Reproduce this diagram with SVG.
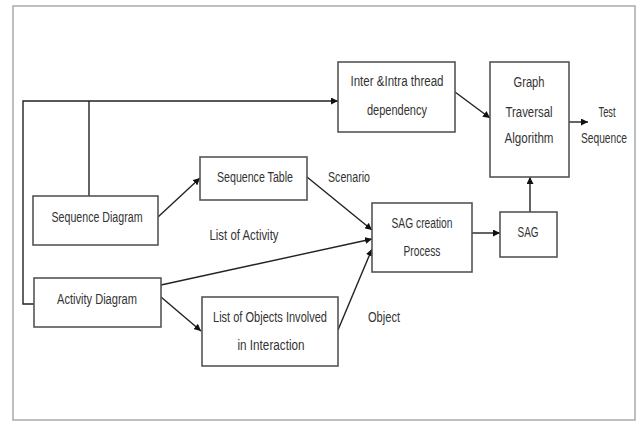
<svg xmlns="http://www.w3.org/2000/svg" width="640" height="422" viewBox="0 0 640 422">
<style>
.box{fill:#fff;stroke:#555;stroke-width:1.6}
.t{font-family:"Liberation Sans",Arial,sans-serif;font-size:15.5px;fill:#333;text-anchor:middle}
.c{fill:none;stroke:#222;stroke-width:1.4}
</style>
<defs>
<marker id="ah" viewBox="0 0 10 10" refX="10" refY="5" markerWidth="7" markerHeight="7" markerUnits="userSpaceOnUse" orient="auto">
<path d="M0,0 L10,5 L0,10 z" fill="#111"/>
</marker>
</defs>
<rect x="0" y="0" width="640" height="422" fill="#fff"/>
<rect x="13" y="6" width="622" height="414" fill="none" stroke="#aaa" stroke-width="1.5"/>
<g id="connectors">
<path class="c" d="M34,304 H23 V101 H338" marker-end="url(#ah)"/>
<path class="c" d="M89,196 V101"/>
<path class="c" d="M455,92 L490,118" marker-end="url(#ah)"/>
<path class="c" d="M569,122 L588,122" marker-end="url(#ah)"/>
<path class="c" d="M530,212 L530,177" marker-end="url(#ah)"/>
<path class="c" d="M472,233 L500,233" marker-end="url(#ah)"/>
<path class="c" d="M158,217 L200,178" marker-end="url(#ah)"/>
<path class="c" d="M307,177 L372,230" marker-end="url(#ah)"/>
<path class="c" d="M161,285 L372,239" marker-end="url(#ah)"/>
<path class="c" d="M161,297 L201,331" marker-end="url(#ah)"/>
<path class="c" d="M338,330 L372,249" stroke-width="1" marker-end="url(#ah)"/>
</g>
<g id="inter">
<rect class="box" x="338" y="62" width="117" height="70"/>
<text class="t" x="397" y="86" textLength="93" lengthAdjust="spacingAndGlyphs">Inter &amp;Intra thread</text>
<text class="t" x="397" y="115" textLength="60" lengthAdjust="spacingAndGlyphs">dependency</text>
</g>
<g id="graph">
<rect class="box" x="490" y="62" width="79" height="115"/>
<text class="t" x="529" y="87" textLength="31" lengthAdjust="spacingAndGlyphs">Graph</text>
<text class="t" x="529" y="117" textLength="47" lengthAdjust="spacingAndGlyphs">Traversal</text>
<text class="t" x="529" y="143" textLength="49" lengthAdjust="spacingAndGlyphs">Algorithm</text>
</g>
<g id="test">
<text class="t" x="607" y="117" textLength="17" lengthAdjust="spacingAndGlyphs">Test</text>
<text class="t" x="604" y="143" textLength="46" lengthAdjust="spacingAndGlyphs">Sequence</text>
</g>
<g id="seqdiag">
<rect class="box" x="33" y="196" width="125" height="49"/>
<text class="t" x="97" y="222" textLength="91" lengthAdjust="spacingAndGlyphs">Sequence Diagram</text>
</g>
<g id="seqtable">
<rect class="box" x="200" y="157" width="107" height="43"/>
<text class="t" x="255" y="182" textLength="76" lengthAdjust="spacingAndGlyphs">Sequence Table</text>
</g>
<g id="labels">
<text class="t" x="349" y="182" textLength="42" lengthAdjust="spacingAndGlyphs">Scenario</text>
<text class="t" x="244" y="240" textLength="69" lengthAdjust="spacingAndGlyphs">List of Activity</text>
<text class="t" x="384" y="322" textLength="32" lengthAdjust="spacingAndGlyphs">Object</text>
</g>
<g id="sagcreation">
<rect class="box" x="372" y="203" width="100" height="69"/>
<text class="t" x="422" y="228" textLength="61" lengthAdjust="spacingAndGlyphs">SAG creation</text>
<text class="t" x="422" y="256" textLength="37" lengthAdjust="spacingAndGlyphs">Process</text>
</g>
<g id="sag">
<rect class="box" x="500" y="212" width="57" height="45"/>
<text class="t" x="528" y="237" textLength="21" lengthAdjust="spacingAndGlyphs">SAG</text>
</g>
<g id="actdiag">
<rect class="box" x="34" y="278" width="127" height="49"/>
<text class="t" x="97" y="304" textLength="80" lengthAdjust="spacingAndGlyphs">Activity Diagram</text>
</g>
<g id="objects">
<rect class="box" x="202" y="297" width="136" height="69"/>
<text class="t" x="270" y="322" textLength="114" lengthAdjust="spacingAndGlyphs">List of Objects Involved</text>
<text class="t" x="271" y="350" textLength="67" lengthAdjust="spacingAndGlyphs">in Interaction</text>
</g>
</svg>
